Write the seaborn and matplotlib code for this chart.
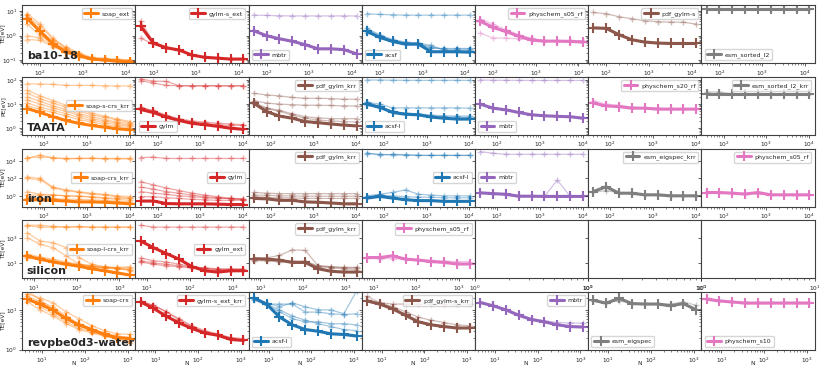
import numpy as np
import pandas as pd
import seaborn as sns
import matplotlib.pyplot as plt
from matplotlib.ticker import FixedLocator, NullFormatter

# training set sizes per dataset
N_ba = [50, 100, 200, 400, 800, 1600, 3200, 6400, 12800]
N_taata = [40, 80, 160, 320, 640, 1280, 2560, 5120, 10240]
N_iron = [40, 80, 160, 320, 640, 1280, 2560, 5120, 10240]
N_silicon = [7, 14, 28, 56, 112, 224, 448, 896, 1792]
N_water = [4.5, 9, 18, 36, 72, 144, 288, 576, 1152]

# first curve of every panel is the best one (drawn thick)
# ---- ba10-18
ba_soap_ext = [[5.0, 1.5, 0.45, 0.22, 0.15, 0.11, 0.10, 0.09, 0.085],
               [8.0, 3.0, 0.8, 0.3, 0.18, 0.12, 0.11, 0.10, 0.10],
               [7.0, 1.6, 0.6, 0.28, 0.17, 0.12, 0.11, 0.10, 0.095],
               [3.0, 1.0, 0.5, 0.25, 0.16, 0.12, 0.105, 0.10, 0.09],
               [1.0, 0.8, 0.4, 0.22, 0.15, 0.12, 0.10, 0.09, 0.09],
               [0.7, 0.65, 0.35, 0.2, 0.14, 0.11, 0.10, 0.095, 0.09],
               [6.0, 2.5, 0.7, 0.35, 0.2, 0.13, 0.12, 0.11, 0.10]]
ba_gylm_s_ext = [[2.5, 0.5, 0.32, 0.26, 0.16, 0.13, 0.12, 0.11, 0.11],
                 [4.0, 0.55, 0.33, 0.25, 0.16, 0.13, 0.12, 0.11, 0.11],
                 [0.8, 0.45, 0.3, 0.27, 0.16, 0.13, 0.12, 0.11, 0.11]]
ba_mbtr = [[1.6, 1.0, 0.75, 0.59, 0.43, 0.29, 0.29, 0.27, 0.18],
           [7.0, 6.8, 6.6, 6.5, 6.5, 6.5, 6.5, 6.5, 6.5]]
ba_acsf = [[1.5, 0.85, 0.58, 0.45, 0.45, 0.22, 0.22, 0.22, 0.21],
           [8.0, 7.5, 7.2, 7.0, 7.0, 7.0, 7.0, 7.0, 7.0],
           [2.0, 1.1, 0.7, 0.55, 0.5, 0.3, 0.3, 0.3, 0.3],
           [1.8, 1.0, 0.65, 0.5, 0.45, 0.35, 0.28, 0.28, 0.28],
           [1.3, 0.9, 0.6, 0.5, 0.5, 0.4, 0.25, 0.25, 0.25]]
ba_physchem_s05_rf = [[4.0, 2.2, 1.5, 0.95, 0.66, 0.6, 0.6, 0.58, 0.55],
                      [5.0, 3.0, 1.8, 1.1, 0.75, 0.62, 0.6, 0.6, 0.6],
                      [1.3, 0.8, 0.8, 0.75, 0.7, 0.62, 0.6, 0.6, 0.6],
                      [3.5, 2.0, 1.4, 1.0, 0.8, 0.62, 0.62, 0.65, 0.6]]
ba_pdf_gylm_s = [[2.1, 2.0, 1.1, 0.68, 0.55, 0.5, 0.48, 0.48, 0.48],
                 [9.0, 8.0, 6.0, 5.0, 4.1, 3.8, 3.6, 3.6, 3.0]]
ba_esm_sorted_l2 = [[12.3, 12.3, 12.3, 12.3, 12.3, 12.3, 12.3, 12.3, 12.3]]

# ---- TAATA
taata_soap_s_crs_krr = [[6.5, 4.5, 3.0, 2.1, 1.6, 1.3, 1.1, 0.95, 0.86],
                        [70, 68, 66, 60, 60, 60, 58, 57, 57],
                        [38, 22, 14, 9, 6, 4.2, 3.2, 2.4, 1.9],
                        [28, 17, 11, 7.5, 5, 3.6, 2.8, 2.2, 1.7],
                        [20, 13, 8.5, 6, 4, 3, 2.3, 1.8, 1.5],
                        [15, 10, 7, 5, 3.4, 2.5, 2.0, 1.6, 1.3],
                        [11, 7.5, 5.5, 4, 2.8, 2.1, 1.7, 1.4, 1.2],
                        [8.5, 6, 4.5, 3.2, 2.3, 1.8, 1.4, 1.2, 1.05]]
taata_gylm = [[6.0, 4.5, 2.9, 2.1, 1.6, 1.4, 1.2, 1.0, 0.9],
              [110, 90, 88, 58, 58, 58, 58, 58, 58],
              [95, 75, 60, 58, 57, 57, 57, 57, 57],
              [7.5, 5, 3.2, 2.3, 1.8, 1.6, 1.4, 1.3, 1.3],
              [7, 5.5, 3.5, 2.5, 2.0, 1.8, 1.6, 1.5, 1.4]]
taata_pdf_gylm_krr = [[11, 4.9, 3.2, 2.6, 1.9, 1.7, 1.5, 1.35, 1.25],
                      [28, 24, 22, 19, 17.5, 17.5, 17, 16, 16],
                      [14, 11, 10, 9.5, 9, 9, 8.8, 8.5, 8.4],
                      [12, 7, 5.5, 4, 3, 2.7, 2.5, 2.5, 2.5],
                      [10, 6.5, 5, 3.5, 2.6, 2.2, 2.0, 1.9, 1.8]]
taata_acsf_l = [[10, 7.4, 4.5, 3.8, 3.6, 2.9, 2.6, 2.4, 2.4],
                [100, 100, 98, 97, 97, 97, 97, 97, 97],
                [12, 10, 7, 7, 7, 7, 7, 7, 6.8],
                [12, 8, 5, 4.2, 4, 3.5, 3.3, 3.2, 3.2],
                [9, 7, 5, 4, 3.8, 3.2, 3, 2.9, 2.8]]
taata_mbtr = [[10, 6.8, 5.8, 4.5, 3.6, 3.3, 3.1, 3.0, 2.6],
              [100, 98, 97, 97, 96, 96, 96, 96, 96]]
taata_physchem_s20_rf = [[11, 8.4, 7.9, 6.8, 6.8, 6.2, 6.2, 6.2, 6.2],
                         [14, 10, 9, 7.5, 7, 6.8, 6.5, 6.5, 6.5]]
taata_esm_sorted_l2_krr = [[26, 26, 26, 26, 26, 26, 26, 26, 26],
                           [32, 32, 27, 26, 26, 26, 26, 26, 26]]

# ---- iron
iron_soap_crs_krr = [[0.35, 0.35, 0.3, 0.25, 0.2, 0.2, 0.18, 0.15, 0.12],
                     [2.5e4, 3e4, 2.5e4, 2e4, 2e4, 2e4, 2e4, 2e4, 2e4],
                     [2e4, 5e4, 2.2e4, 1.8e4, 2e4, 2.2e4, 1.8e4, 1.8e4, 1.8e4],
                     [150, 100, 10, 5, 3, 2, 1.5, 1.0, 0.8],
                     [100, 70, 8, 4, 2.5, 1.5, 1.2, 0.8, 0.5],
                     [3, 1.5, 1.2, 1.0, 0.9, 0.8, 0.6, 0.5, 0.5],
                     [1.2, 1.2, 1.3, 1.0, 0.9, 0.7, 0.5, 0.4, 0.3],
                     [0.6, 0.5, 0.5, 0.4, 0.4, 0.35, 0.3, 0.25, 0.2]]
iron_gylm = [[0.25, 0.25, 0.13, 0.12, 0.12, 0.12, 0.11, 0.10, 0.10],
             [2.5e4, 2.8e4, 2e4, 2e4, 2e4, 2e4, 2e4, 2e4, 2e4],
             [42, 18, 8, 4, 2, 1.2, 0.8, 0.5, 0.36],
             [10, 6, 3, 2, 1.2, 0.8, 0.6, 0.45, 0.4],
             [3, 2, 1.5, 1.0, 0.8, 0.6, 0.5, 0.5, 0.45],
             [0.8, 0.8, 0.6, 0.5, 0.4, 0.35, 0.3, 0.3, 0.3]]
iron_pdf_gylm_krr = [[0.5, 0.45, 0.3, 0.3, 0.2, 0.18, 0.15, 0.12, 0.12],
                     [2.5, 2.0, 1.8, 1.8, 1.8, 1.8, 1.8, 1.8, 1.8],
                     [1.2, 1.2, 1.0, 1.0, 0.9, 0.9, 0.9, 0.9, 0.9],
                     [0.8, 0.7, 0.6, 0.6, 0.5, 0.5, 0.5, 0.5, 0.5]]
iron_acsf_l = [[0.55, 0.85, 0.55, 0.36, 0.28, 0.28, 0.23, 0.23, 0.23],
               [7e4, 6e4, 5e4, 5e4, 4.5e4, 4.5e4, 4.5e4, 4.5e4, 4.5e4],
               [9e4, 5e4, 6e4, 5.5e4, 4.5e4, 4.5e4, 4.5e4, 4.5e4, 4.5e4],
               [1.0, 1.5, 2.5, 4.8, 1.5, 1.2, 1.0, 1.0, 1.0],
               [0.8, 1.2, 1.0, 0.8, 0.7, 0.7, 0.6, 0.6, 0.6]]
iron_mbtr = [[2.2, 1.8, 1.5, 0.9, 0.9, 0.85, 0.85, 0.85, 0.85],
             [1.2e5, 8e4, 6e4, 6e4, 6e4, 6e4, 6e4, 6e4, 6e4],
             [2.0, 1.6, 1.3, 0.85, 0.85, 0.85, 65, 0.85, 0.85]]
iron_esm_eigspec_krr = [[3.1, 11, 2.0, 2.0, 1.3, 1.3, 1.0, 1.0, 1.0],
                        [2.5, 4, 2.2, 1.8, 1.4, 1.2, 1.1, 1.0, 1.0]]
iron_physchem_s05_rf = [[2.4, 2.4, 2.0, 1.6, 2.4, 1.3, 1.3, 1.3, 1.3],
                        [2.2, 2.2, 1.9, 1.7, 1.8, 1.4, 1.3, 1.3, 1.3]]

# ---- silicon
si_soap_l_crs_krr = [[35, 20, 12, 8, 5.5, 3.5, 2.4, 1.6, 1.1],
                     [1e4, 1e4, 8e3, 7.5e3, 8e3, 7e3, 7e3, 7e3, 7e3],
                     [9e3, 7e3, 7e3, 7e3, 7e3, 7e3, 7e3, 7e3, 7e3],
                     [2500, 550, 410, 165, 27, 8, 5, 4, 3],
                     [1000, 300, 165, 37, 8.3, 6, 4, 3.5, 2.5],
                     [50, 30, 20, 12, 8, 6, 5, 4, 4],
                     [30, 25, 15, 10, 7, 5, 4, 3.5, 3],
                     [25, 18, 12, 9, 7, 5, 4.5, 4.5, 5]]
si_gylm_ext = [[550, 165, 56, 20, 5.1, 2.4, 1.9, 2.4, 2.4],
               [1e4, 7e3, 7e3, 7e3, 7e3, 7e3, 7e3, 7e3, 7e3],
               [25, 15, 12, 8, 5, 4, 3, 3, 3],
               [15, 10, 8, 6, 5, 4, 3.5, 3.5, 3.5],
               [12, 8, 6, 5, 4, 3, 3, 2.8, 2.6]]
si_pdf_gylm_krr = [[22, 20, 17, 11, 11, 3.5, 2.2, 1.9, 1.9],
                   [22, 25, 40, 110, 100, 6, 5, 4.5, 4.5],
                   [18, 20, 16, 14, 14, 6, 5, 4, 4],
                   [15, 15, 12, 12, 12, 5, 4, 3.5, 3]]
si_physchem_s05_rf = [[27, 27, 37, 20, 17, 13, 11, 8.3, 8.3],
                      [25, 22, 22, 20, 18, 16, 14, 13, 13]]

# ---- revpbe0d3-water
w_soap_crs = [[18.5, 14, 9.8, 6.1, 4.2, 3.2, 2.4, 2.0, 1.9],
              [25, 20, 15, 9, 6, 4, 3, 2.5, 2.4],
              [22, 16, 12, 7, 4.5, 3.3, 2.6, 2.2, 2.0],
              [20, 12, 8, 5, 3.5, 2.8, 2.3, 2.0, 1.8],
              [16, 10, 7, 4.5, 3.2, 2.6, 2.2, 1.9, 1.6],
              [30, 18, 10, 6, 4, 3, 2.2, 1.8, 1.5]]
w_gylm_s_ext_krr = [[15.8, 11, 6.9, 4.7, 3.4, 2.6, 2.3, 1.8, 1.7],
                    [17, 13, 9, 5.5, 3.8, 2.8, 2.3, 2.0, 1.7],
                    [16, 13, 9, 6, 4, 3, 2.5, 2.0, 1.9]]
w_acsf_l = [[20, 14, 6.6, 4.2, 3.2, 2.9, 2.5, 2.4, 2.2],
            [20, 14, 14, 14, 8.8, 8.8, 8.0, 7.6, 8.0],
            [18, 13, 9, 6, 5, 5, 4.5, 4.5, 4.2],
            [19, 14, 10, 7, 5.5, 4.5, 3.8, 3.2, 3.0],
            [20, 15, 12, 15, 12, 10, 10, 8, 30]]
w_pdf_gylm_s_krr = [[16.8, 14, 10.6, 7.3, 5, 4.2, 3.8, 3.5, 3.5],
                    [22, 15.3, 14, 14, 14, 14, 14, 14, 14],
                    [18, 15, 12, 9, 6.5, 5.5, 4.8, 4.2, 4.0]]
w_mbtr = [[15.3, 12.7, 10, 7.3, 5.7, 5.0, 4.2, 3.8, 3.7],
          [16, 13, 10.5, 7.8, 6, 5.3, 4.8, 4.7, 4.6]]
w_esm_eigspec = [[17.4, 14.8, 19.5, 14.4, 14, 14, 12.7, 14.4, 10],
                 [17, 15, 17, 15, 14.5, 14.5, 14, 16, 13]]
w_physchem_s10 = [[18.5, 16.8, 15.8, 14.8, 14.8, 14.8, 14.8, 14.8, 14.8],
                  [20, 17, 16, 15.5, 15.5, 15.5, 15.5, 15.5, 15.5]]

row_names = ["ba10-18", "TAATA", "iron", "silicon", "revpbe0d3-water"]
row_ylabels = ["TE[eV]", "PE[eV]", "TE[eV]", "TE[eV]", "TE[eV]"]
row_N = [N_ba, N_taata, N_iron, N_silicon, N_water]
row_ylim = [(0.075, 18), (0.53, 135), (0.057, 2.7e5), (0.6, 2.4e4), (0.97, 28)]
row_yticks = [[0.1, 1, 10], [1, 10, 100], [1, 100, 1e4], [10, 1000], [1, 10]]

c = {"orange": "#ff7f0e", "red": "#d62728", "purple": "#9467bd", "blue": "#1f77b4",
     "pink": "#e377c2", "brown": "#8c564b", "gray": "#7f7f7f"}

# (legend label, colour, curves, legend location)
rows = [
    [("soap_ext", "orange", ba_soap_ext, "upper right"),
     ("gylm-s_ext", "red", ba_gylm_s_ext, "upper right"),
     ("mbtr", "purple", ba_mbtr, "lower left"),
     ("acsf", "blue", ba_acsf, "lower left"),
     ("physchem_s05_rf", "pink", ba_physchem_s05_rf, "upper right"),
     ("pdf_gylm-s", "brown", ba_pdf_gylm_s, "upper right"),
     ("esm_sorted_l2", "gray", ba_esm_sorted_l2, "lower left")],
    [("soap-s-crs_krr", "orange", taata_soap_s_crs_krr, "center right"),
     ("gylm", "red", taata_gylm, "lower left"),
     ("pdf_gylm_krr", "brown", taata_pdf_gylm_krr, "upper right"),
     ("acsf-l", "blue", taata_acsf_l, "lower left"),
     ("mbtr", "purple", taata_mbtr, "lower left"),
     ("physchem_s20_rf", "pink", taata_physchem_s20_rf, "upper right"),
     ("esm_sorted_l2_krr", "gray", taata_esm_sorted_l2_krr, "upper right")],
    [("soap-crs_krr", "orange", iron_soap_crs_krr, "center right"),
     ("gylm", "red", iron_gylm, "center right"),
     ("pdf_gylm_krr", "brown", iron_pdf_gylm_krr, "upper right"),
     ("acsf-l", "blue", iron_acsf_l, "center right"),
     ("mbtr", "purple", iron_mbtr, "center left"),
     ("esm_eigspec_krr", "gray", iron_esm_eigspec_krr, "upper right"),
     ("physchem_s05_rf", "pink", iron_physchem_s05_rf, "upper right")],
    [("soap-l-crs_krr", "orange", si_soap_l_crs_krr, "center right"),
     ("gylm_ext", "red", si_gylm_ext, "center right"),
     ("pdf_gylm_krr", "brown", si_pdf_gylm_krr, "upper right"),
     ("physchem_s05_rf", "pink", si_physchem_s05_rf, "upper right")],
    [("soap-crs", "orange", w_soap_crs, "upper right"),
     ("gylm-s_ext_krr", "red", w_gylm_s_ext_krr, "upper right"),
     ("acsf-l", "blue", w_acsf_l, "lower left"),
     ("pdf_gylm-s_krr", "brown", w_pdf_gylm_s_krr, "upper right"),
     ("mbtr", "purple", w_mbtr, "upper right"),
     ("esm_eigspec", "gray", w_esm_eigspec, "lower left"),
     ("physchem_s10", "pink", w_physchem_s10, "lower left")],
]

sns.set_style("ticks", {"axes.edgecolor": "0.25"})
plt.rcParams.update({"xtick.labelsize": 4.2, "ytick.labelsize": 4.2,
                     "xtick.major.size": 2.5, "ytick.major.size": 2.5,
                     "xtick.minor.size": 1.5, "ytick.minor.size": 1.5,
                     "xtick.major.width": 0.5, "ytick.major.width": 0.5,
                     "xtick.minor.width": 0.4, "ytick.minor.width": 0.4,
                     "xtick.major.pad": 1.2, "ytick.major.pad": 1.0,
                     "axes.linewidth": 0.8})

fig, axes = plt.subplots(5, 7, figsize=(8.22, 3.67), dpi=100, sharey="row")
fig.subplots_adjust(left=0.027, right=0.991, top=0.986, bottom=0.046, wspace=0, hspace=0.237)

for r in range(5):
    N = row_N[r]
    for col in range(7):
        ax = axes[r, col]
        ax.set_xscale("log")
        ax.set_yscale("log")
        if col >= len(rows[r]):
            # no model for this panel, leave it empty
            ax.set_xlim(1, 10)
            ax.xaxis.set_minor_formatter(NullFormatter())
            continue
        label, cname, curves, loc = rows[r][col]
        color = c[cname]
        # thin curves first, best curve on top
        for vals in curves[1:]:
            df = pd.DataFrame({"N": N, "err": vals})
            sns.lineplot(data=df, x="N", y="err", ax=ax, color=color, lw=0.9, alpha=0.4,
                         marker="+", markersize=5, markeredgewidth=1.0,
                         markeredgecolor=color, legend=False)
        df = pd.DataFrame({"N": N, "err": curves[0]})
        sns.lineplot(data=df, x="N", y="err", ax=ax, color=color, lw=2.2, alpha=1.0,
                     marker="+", markersize=6.5, markeredgewidth=1.5,
                     markeredgecolor=color, label=label, legend=False)
        ax.legend(loc=loc, fontsize=4.5, handlelength=2.2, borderpad=0.4,
                  handletextpad=0.6, framealpha=0.8, edgecolor="0.8")
        ax.set_ylabel("")
        if r == 4:
            ax.set_xlabel("N", fontsize=4.2)
            ax.xaxis.set_label_coords(0.45, -0.19)
        else:
            ax.set_xlabel("")
    axes[r, 0].set_ylim(*row_ylim[r])
    axes[r, 0].yaxis.set_major_locator(FixedLocator(row_yticks[r]))
    axes[r, 0].set_ylabel(row_ylabels[r], fontsize=4.2)
    axes[r, 0].yaxis.set_label_coords(-0.15, 0.5)
    axes[r, 0].text(0.04, 0.04, row_names[r], transform=axes[r, 0].transAxes,
                    fontsize=8, fontweight="bold", ha="left", va="bottom", zorder=10)

fig.savefig("out.png", dpi=100)
